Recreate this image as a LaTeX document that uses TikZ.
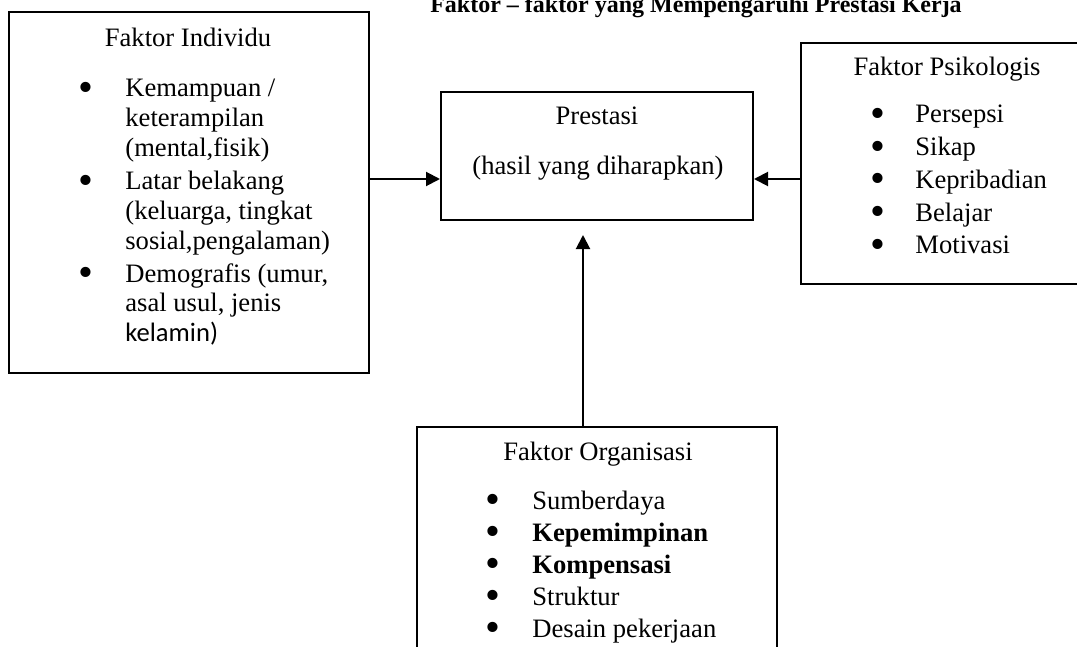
\documentclass[tikz,border=0pt]{standalone}
\usepackage{fontspec}
\setmainfont{Liberation Serif}
\newfontfamily\calibri{Carlito}
\usetikzlibrary{positioning, arrows.meta}

\newcommand{\bul}{\smash{\raisebox{-0.17em}{\scalebox{1.6}{\textbullet}}}}

\begin{document}
\begin{tikzpicture}[x=0.5pt, y=-0.5pt, font=\fontsize{13.3pt}{14.9pt}\selectfont]

	\tikzstyle{box}=[draw=black, line width=1pt, anchor=north west, inner sep=0];
	\tikzstyle{ttl}=[anchor=base, inner sep=0];
	\tikzstyle{lst}=[anchor=base west, inner sep=0, align=left];
	\tikzstyle{arr}=[-{Triangle[length=7pt, width=7pt]}, line width=1pt];

	\useasboundingbox (0,0) rectangle (1077,647);
	\clip (0,0) rectangle (1077,647);

	\node (head) [ttl, font=\fontsize{12pt}{14pt}\selectfont\bfseries] at (696,13) {Faktor -- faktor yang Mempengaruhi Prestasi Kerja};

	% individu
	\node (ind) [box, minimum width=180pt, minimum height=180.5pt] at (8,11) {};
	\node (ind title) [ttl] at (188,47) {Faktor Individu};
	\node (ind list) [lst] at (78,97) {\begin{tabular}[t]{@{}p{23.5pt}@{}l@{}}
		\bul & Kemampuan / \\ & keterampilan \\ & (mental,fisik) \\[1.6pt]
		\bul & Latar belakang \\ & (keluarga, tingkat \\ & sosial,pengalaman) \\[1.6pt]
		\bul & Demografis (umur, \\ & asal usul, jenis \\ & {\calibri kelamin)}
	\end{tabular}};

	% prestasi
	\node (pres) [box, minimum width=156pt, minimum height=64pt] at (440,91) {};
	\node (pres title) [ttl] at (597,125) {Prestasi};
	\node (pres sub) [ttl] at (598,175) {(hasil yang diharapkan)};

	% psikologis
	\node (psi) [box, minimum width=150pt, minimum height=120.5pt] at (800,42) {};
	\node (psi title) [ttl] at (947,76) {Faktor Psikologis};
	\node (psi list) [lst, font=\fontsize{13.3pt}{16.35pt}\selectfont] at (870,123) {\begin{tabular}[t]{@{}p{22.5pt}@{}l@{}}
		\bul & Persepsi \\ \bul & Sikap \\ \bul & Kepribadian \\ \bul & Belajar \\ \bul & Motivasi
	\end{tabular}};

	% organisasi
	\node (org) [box, minimum width=180pt, minimum height=130pt] at (416,426) {};
	\node (org title) [ttl] at (598,460) {Faktor Organisasi};
	\node (org list) [lst, font=\fontsize{13.3pt}{16pt}\selectfont] at (485,509) {\begin{tabular}[t]{@{}p{23.5pt}@{}l@{}}
		\bul & Sumberdaya \\ \bul & \textbf{Kepemimpinan} \\ \bul & \textbf{Kompensasi} \\ \bul & Struktur \\ \bul & Desain pekerjaan
	\end{tabular}};

	\coordinate (mid) at (0,179);
	\coordinate (up) at (583,0);

	\draw [arr] (ind.east |- mid) -- (pres.west |- mid);
	\draw [arr] (psi.west |- mid) -- (pres.east |- mid);
	\draw [arr, shorten >=7pt] (org.north -| up) -- (pres.south -| up);

\end{tikzpicture}
\end{document}
